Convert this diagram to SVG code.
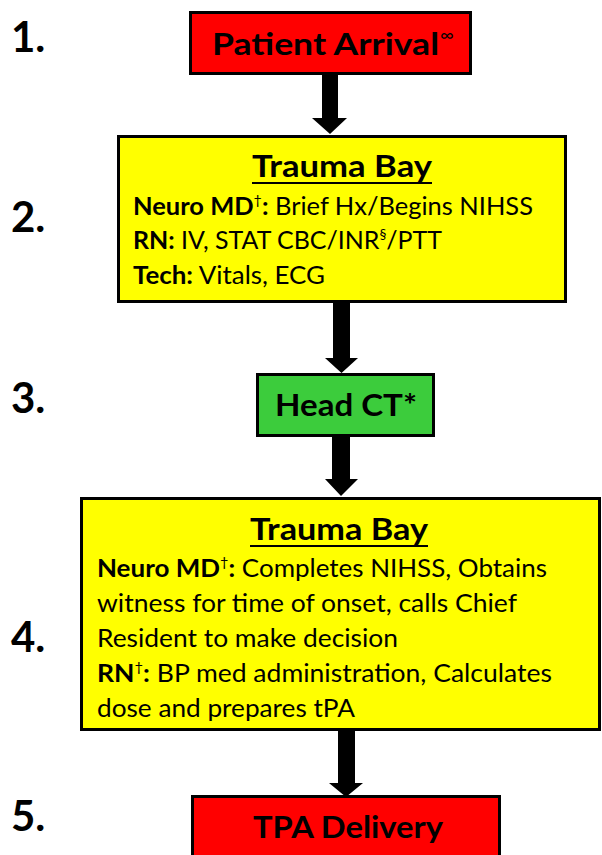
<svg xmlns="http://www.w3.org/2000/svg" width="602" height="855" viewBox="0 0 602 855">
<style>
.box{stroke:#000;stroke-width:3}
.red{fill:#ff0000}
.yel{fill:#ffff00}
.grn{fill:#3ccc3c}
text{font-family:Lato,"Liberation Sans",sans-serif;fill:#000}
.lbl{font-size:31px;font-weight:bold}
.ttl{font-size:30px;font-weight:bold}
.body{font-size:25px}
.b{font-weight:bold}
.num{font-size:42px;font-weight:bold}
.arrow{fill:#000}
</style>
<rect width="602" height="855" fill="#fff"/>
<g id="numbers">
<text class="num" x="11" y="52">1.</text>
<text class="num" x="11" y="232">2.</text>
<text class="num" x="11" y="413">3.</text>
<text class="num" x="11" y="652">4.</text>
<text class="num" x="11" y="831">5.</text>
</g>
<g id="connectors">
<polygon class="arrow" points="322,75 338,75 338,118 347,118 330,134 312,118 322,118"/>
<polygon class="arrow" points="333,303 350,303 350,358 358,358 341.5,373 325,358 333,358"/>
<polygon class="arrow" points="332,437 350,437 350,479 358,479 341,496 325,479 332,479"/>
<polygon class="arrow" points="338,731 355,731 355,783 363,783 346,797 329,783 338,783"/>
</g>
<g id="patient-arrival">
<rect class="box red" x="190.5" y="12.5" width="280" height="61"/>
<text class="lbl" x="212" y="55" textLength="227" lengthAdjust="spacingAndGlyphs">Patient Arrival</text>
<text x="440" y="41" font-family="'DejaVu Sans',sans-serif" font-size="17" textLength="14" lengthAdjust="spacingAndGlyphs">∞</text>
</g>
<g id="trauma-bay-1">
<rect class="box yel" x="118.5" y="136.5" width="447" height="165"/>
<text class="ttl" x="252" y="177" textLength="180" lengthAdjust="spacingAndGlyphs">Trauma Bay</text>
<line x1="252" y1="183" x2="432" y2="183" stroke="#000" stroke-width="2"/>
<text class="body" x="133" y="215" textLength="400" lengthAdjust="spacingAndGlyphs"><tspan class="b">Neuro MD</tspan><tspan font-size="14" dy="-10">†</tspan><tspan class="b" dy="10">:</tspan> Brief Hx/Begins NIHSS</text>
<text class="body" x="133" y="249" textLength="309" lengthAdjust="spacingAndGlyphs"><tspan class="b">RN:</tspan> IV, STAT CBC/INR<tspan font-size="14" dy="-10">§</tspan><tspan dy="10">/PTT</tspan></text>
<text class="body" x="133" y="284" textLength="192" lengthAdjust="spacingAndGlyphs"><tspan class="b">Tech:</tspan> Vitals, ECG</text>
</g>
<g id="head-ct">
<rect class="box grn" x="257.5" y="374.5" width="176" height="61"/>
<text class="lbl" x="275" y="416" textLength="142" lengthAdjust="spacingAndGlyphs">Head CT*</text>
</g>
<g id="trauma-bay-2">
<rect class="box yel" x="81.5" y="498.5" width="518" height="231"/>
<text class="ttl" x="250" y="540" textLength="178" lengthAdjust="spacingAndGlyphs">Trauma Bay</text>
<line x1="250" y1="546" x2="428" y2="546" stroke="#000" stroke-width="2"/>
<text class="body" x="97" y="577" textLength="450" lengthAdjust="spacingAndGlyphs"><tspan class="b">Neuro MD</tspan><tspan font-size="14" dy="-10">†</tspan><tspan class="b" dy="10">:</tspan> Completes NIHSS, Obtains</text>
<text class="body" x="97" y="612" textLength="420" lengthAdjust="spacingAndGlyphs">witness for time of onset, calls Chief</text>
<text class="body" x="97" y="647" textLength="301" lengthAdjust="spacingAndGlyphs">Resident to make decision</text>
<text class="body" x="97" y="682" textLength="455" lengthAdjust="spacingAndGlyphs"><tspan class="b">RN</tspan><tspan font-size="14" dy="-10">†</tspan><tspan class="b" dy="10">:</tspan> BP med administration, Calculates</text>
<text class="body" x="97" y="717" textLength="258" lengthAdjust="spacingAndGlyphs">dose and prepares tPA</text>
</g>
<g id="tpa-delivery">
<rect class="box red" x="192.5" y="796.5" width="307" height="70"/>
<text class="lbl" x="253" y="838" textLength="190" lengthAdjust="spacingAndGlyphs">TPA Delivery</text>
</g>
</svg>
